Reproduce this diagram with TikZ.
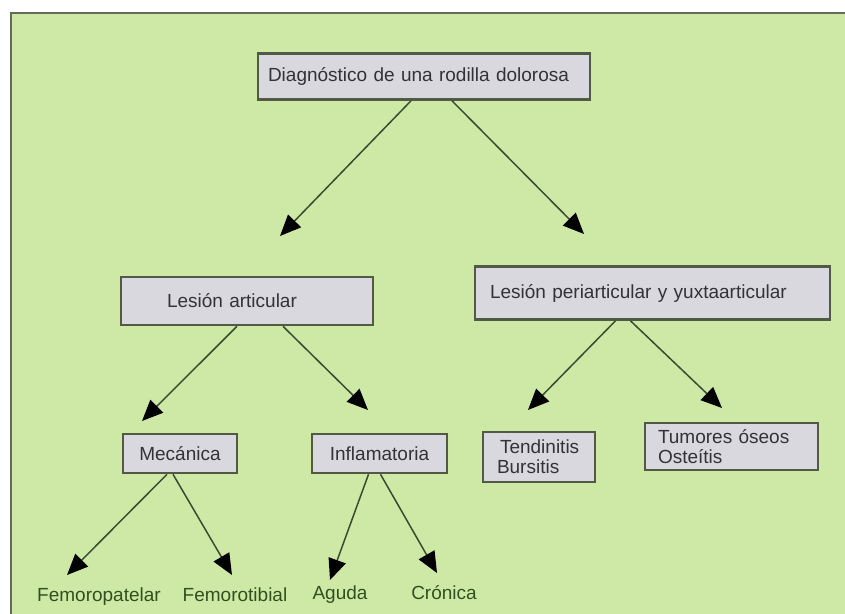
\documentclass[tikz,border=0pt]{standalone}
\usepackage{fontspec}
\setmainfont{Liberation Sans}
\usetikzlibrary{arrows.meta}
\definecolor{panelgreen}{RGB}{206,233,166}
\definecolor{panelborder}{RGB}{98,108,88}
\definecolor{boxfill}{RGB}{216,216,222}
\definecolor{boxborder}{RGB}{80,90,68}
\definecolor{boxtext}{RGB}{50,50,56}
\definecolor{leaftext}{RGB}{50,80,30}
\definecolor{shaft}{RGB}{60,74,50}
\tikzset{
  box/.style={draw=boxborder, line width=2.6pt, fill=boxfill, text=boxtext,
    inner xsep=0pt, inner ysep=2pt, align=left, font=\fontsize{19}{20}\selectfont},
  leaf/.style={text=leaftext, inner sep=0pt, anchor=base, font=\fontsize{19}{20}\selectfont},
  arr/.style={draw=shaft, line width=1.5pt,
    -{Triangle[length=21pt,width=18pt,color=black,fill=black]}}
}
\begin{document}
\begin{tikzpicture}[x=1pt,y=-1pt]
\useasboundingbox (0,0) rectangle (845,613);
\clip (0,0) rectangle (845,613);
\fill[white] (0,0) rectangle (845,613);
\draw[draw=panelborder, line width=2pt, fill=panelgreen] (11,13) rectangle (870,640);

% boxes
\node[box, text width=332pt, minimum height=46pt] (diag) at (424,76.5)
  {\hspace*{10pt}Diagnóstico de una rodilla dolorosa};
\node[box, text width=252pt, minimum height=48pt] (la) at (247,301)
  {\hspace*{46pt}Lesión articular};
\node[box, text width=355pt, minimum height=53pt] (lp) at (652.5,293)
  {\hspace*{15pt}Lesión periarticular y yuxtaarticular};
\node[box, text width=114pt, minimum height=39pt, align=center] (mec) at (180,453.5)
  {Mecánica};
\node[box, text width=135pt, minimum height=39pt, align=center] (inf) at (379.5,453.5)
  {Inflamatoria};
\node[box, text width=112pt, minimum height=50pt] (tb) at (539,457)
  {\hspace*{17pt}Tendinitis\\\hspace*{14pt}Bursitis};
\node[box, text width=173pt, minimum height=47pt] (to) at (731.5,446.5)
  {\hspace*{13pt}Tumores óseos\\\hspace*{13pt}Osteítis};

% leaves
\node[leaf] (fp) at (99,601) {Femoropatelar};
\node[leaf] (ft) at (235,601) {Femorotibial};
\node[leaf] (ag) at (340,599) {Aguda};
\node[leaf] (cr) at (444,599) {Crónica};

% arrow ends
\coordinate (e1) at (280,236);
\coordinate (e2) at (584,234);
\coordinate (e3) at (142,421);
\coordinate (e4) at (368,410);
\coordinate (e5) at (528,410);
\coordinate (e6) at (722,408);
\coordinate (e7) at (67,575);
\coordinate (e8) at (232,575);
\coordinate (e9) at (330,580);
\coordinate (e10) at (437,573);

\draw[arr] ([xshift=-13pt]diag.south) -- (e1);
\draw[arr] ([xshift=28pt]diag.south) -- (e2);
\draw[arr] ([xshift=-10pt]la.south) -- (e3);
\draw[arr] ([xshift=36pt]la.south) -- (e4);
\draw[arr] ([xshift=-37pt]lp.south) -- (e5);
\draw[arr] ([xshift=-22pt]lp.south) -- (e6);
\draw[arr] ([xshift=-13pt]mec.south) -- (e7);
\draw[arr] ([xshift=-7pt]mec.south) -- (e8);
\draw[arr] ([xshift=-11pt]inf.south) -- (e9);
\draw[arr] ([xshift=1pt]inf.south) -- (e10);
\end{tikzpicture}
\end{document}
